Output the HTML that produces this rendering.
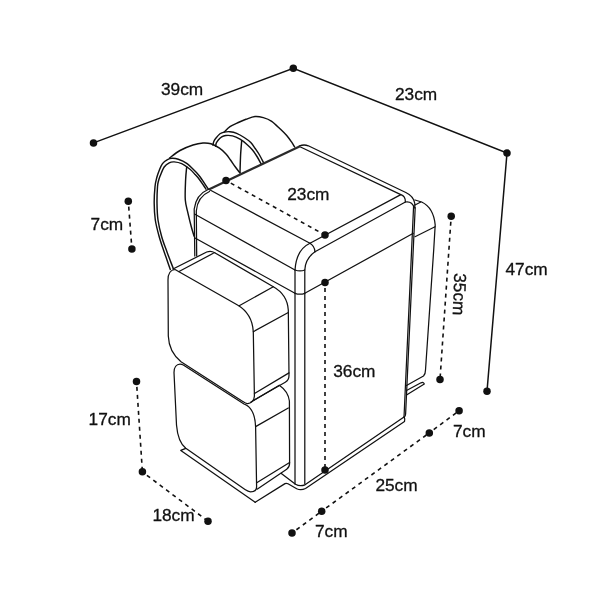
<!DOCTYPE html>
<html><head><meta charset="utf-8">
<style>
html,body{margin:0;padding:0;background:#fff;}
svg{display:block;will-change:transform;}
text{font-family:"Liberation Sans",sans-serif;font-size:17.3px;fill:#111;stroke:#111;stroke-width:0.3px;}
</style></head>
<body>
<svg width="600" height="600" viewBox="0 0 600 600">
<rect width="600" height="600" fill="#fff"/>

<g fill="none" stroke="#111" stroke-width="1.25" stroke-linecap="round" stroke-linejoin="round">
<g stroke-width="1.45">
<path d="M169.50,158.00 C171.25,156.75 176.08,152.67 180.00,150.50 C183.92,148.33 189.17,146.25 193.00,145.00 C196.83,143.75 200.00,143.20 203.00,143.00 C206.00,142.80 208.25,142.93 211.00,143.80 C213.75,144.67 217.00,146.50 219.50,148.20 C222.00,149.90 224.17,152.03 226.00,154.00 C227.83,155.97 229.00,157.92 230.50,160.00 C232.00,162.08 233.42,164.33 235.00,166.50 C236.58,168.67 239.17,171.92 240.00,173.00"/>
<path d="M170.30,269.50 C169.75,267.92 168.02,262.92 167.00,260.00 C165.98,257.08 165.50,255.88 164.20,252.00 C162.90,248.12 160.68,242.03 159.20,236.70 C157.72,231.37 156.13,225.57 155.30,220.00 C154.47,214.43 154.25,208.85 154.20,203.30 C154.15,197.75 154.57,191.00 155.00,186.70 C155.43,182.40 156.10,180.20 156.80,177.50 C157.50,174.80 158.25,172.82 159.20,170.50 C160.15,168.18 161.12,165.42 162.50,163.60 C163.88,161.78 165.92,160.48 167.50,159.60 C169.08,158.72 170.20,158.37 172.00,158.30 C173.80,158.23 175.85,158.37 178.30,159.20 C180.75,160.03 183.92,161.33 186.70,163.30 C189.48,165.27 192.78,168.77 195.00,171.00 C197.22,173.23 198.33,174.50 200.00,176.70 C201.67,178.90 203.58,182.10 205.00,184.20 C206.42,186.30 207.92,188.45 208.50,189.30"/>
<path d="M173.50,269.00 C172.92,267.50 171.08,262.83 170.00,260.00 C168.92,257.17 168.38,255.88 167.00,252.00 C165.62,248.12 163.20,242.03 161.70,236.70 C160.20,231.37 158.78,225.57 158.00,220.00 C157.22,214.43 157.08,208.85 157.00,203.30 C156.92,197.75 157.23,190.50 157.50,186.70 C157.77,182.90 158.15,182.32 158.60,180.50 C159.05,178.68 159.27,178.05 160.20,175.80 C161.13,173.55 162.70,169.17 164.20,167.00 C165.70,164.83 167.53,163.65 169.20,162.80 C170.87,161.95 172.12,161.75 174.20,161.90 C176.28,162.05 179.07,162.47 181.70,163.70 C184.33,164.93 187.78,167.52 190.00,169.30 C192.22,171.08 193.47,172.75 195.00,174.40 C196.53,176.05 197.82,177.43 199.20,179.20 C200.58,180.97 202.17,183.33 203.30,185.00 C204.43,186.67 205.55,188.50 206.00,189.20"/>
<path d="M186.70,166.70 C186.52,168.92 185.83,174.45 185.60,180.00 C185.37,185.55 184.90,194.45 185.30,200.00 C185.70,205.55 187.00,208.85 188.00,213.30 C189.00,217.75 190.30,222.92 191.30,226.70 C192.30,230.48 193.55,234.45 194.00,236.00"/>
<path d="M224.20,132.00 C225.17,131.12 227.65,128.28 230.00,126.70 C232.35,125.12 235.63,123.73 238.30,122.50 C240.97,121.27 243.22,120.30 246.00,119.30 C248.78,118.30 252.12,116.78 255.00,116.50 C257.88,116.22 260.52,116.80 263.30,117.60 C266.08,118.40 268.92,119.43 271.70,121.30 C274.48,123.17 277.50,126.43 280.00,128.80 C282.50,131.17 284.75,133.27 286.70,135.50 C288.65,137.73 290.38,140.30 291.70,142.20 C293.02,144.10 294.12,146.12 294.60,146.90"/>
<path d="M212.90,145.00 C213.05,144.42 213.32,142.62 213.80,141.50 C214.28,140.38 214.77,139.59 215.80,138.30 C216.83,137.01 218.60,134.78 220.00,133.75 C221.40,132.72 222.53,132.44 224.20,132.10 C225.87,131.76 227.92,131.50 230.00,131.70 C232.08,131.90 234.33,132.33 236.70,133.30 C239.07,134.27 241.85,135.97 244.20,137.50 C246.55,139.03 248.97,140.67 250.80,142.50 C252.63,144.33 253.75,146.42 255.20,148.50 C256.65,150.58 258.08,152.58 259.50,155.00 C260.92,157.42 263.00,161.67 263.70,163.00"/>
<path d="M215.60,146.20 C215.72,145.67 215.85,144.03 216.30,143.00 C216.75,141.97 217.40,141.03 218.30,140.00 C219.20,138.97 220.45,137.55 221.70,136.80 C222.95,136.05 224.00,135.65 225.80,135.50 C227.60,135.35 230.13,135.28 232.50,135.90 C234.87,136.52 237.63,137.82 240.00,139.20 C242.37,140.58 244.62,142.40 246.70,144.20 C248.78,146.00 250.78,147.95 252.50,150.00 C254.22,152.05 255.53,154.13 257.00,156.50 C258.47,158.87 260.58,162.92 261.30,164.20"/>
<path d="M241.70,140.80 C241.52,143.17 240.88,149.72 240.60,155.00 C240.32,160.28 240.10,169.58 240.00,172.50"/>
</g>

<path d="M299.5,145.8 Q304.2,144.2 308.3,145.8 L405.8,192.5 Q413.5,196 414.8,203.5 L414.8,208"/>
<path d="M300.5,147 L400.8,194.6"/>
<path d="M310,243.3 L400.8,194.6 Q405.5,196 405.4,202"/>
<path d="M315,251.7 L405.4,202 Q412,201 414.2,207.5"/>
<path d="M310,243.3 Q314.5,246 315,251.7"/>
<path d="M208.7,189.3 L310,243.3"/>
<path d="M208.5,189.3 C201,192.5 195.5,199 194.2,209 L194.8,256"/>
<path d="M209.5,191.5 C202.5,194.5 197.2,201 196.3,211 L196.7,256"/>
<path d="M310,243.3 C302,247 296,254 295,270 L295,484"/>
<path d="M315,251.7 C309,256 305,262 304.8,270 L304.8,484"/>
<path d="M295,270 Q300,271.8 304.8,270"/>
<path d="M295,293.3 Q300,295.1 304.8,293.3"/>
<path d="M194.5,214 L295,270"/>
<path d="M195,238 L295,293.3"/>
<path d="M304.8,293.3 L413.3,233.3"/>
<path d="M415,236.7 L435,226.7"/>
<path d="M413.6,206 L404,417.5"/>
<path d="M415.2,207.5 L405.6,414 Q405.5,416.5 404,417.5"/>
<path d="M415,200 L421.7,202 C428,205 434,212 435.2,225 L433.7,250 L425.5,370 Q425.5,374 423.5,376 L406.5,385.5"/>
<path d="M415,205 L420.8,202"/>
<path d="M406.5,390.5 L421,382.8 Q423.5,381.8 424.3,384 L406.5,395"/>
<path d="M281,473.3 L295.5,484.2 Q300,486.8 305,484.8 L404,417"/>
<path d="M255.2,502.3 L285,483.6 Q286.5,483 288,483.8 L296.7,488.8 Q301,490.8 305.5,488.5 L404.5,421.5 Q405.2,419 404.2,417"/>
<path d="M185.8,448.3 L180.8,450.4 L255.2,502.3"/>
<path d="M175,269.5 L237.5,305 C246,310 252.5,318 253.3,331.7 L254.4,396 C254.4,400 251,403.8 247.3,403.6 C245.5,403.5 244,402.3 242,401 L181,361.8 C174,356 168.8,348.5 168.3,336 L168,280 C168,274 170,270 175,269.5 Z"/>
<path d="M173,269 L206.7,252 Q211,250.3 214.7,252.7"/>
<path d="M179,271.5 L213.3,253.3"/>
<path d="M214.7,252.7 L273.3,286.7 C281,291 287.5,297 288.3,310 L289,375.5 C289,379 287.5,381 285.25,382.25 L253.75,400.25"/>
<path d="M289,372.9 L254.5,393.5"/>
<path d="M239.2,305.8 L273.3,286.7"/>
<path d="M253.3,331.7 L288.3,312.5"/>
<path d="M183.3,365 L244,404 C251,406.5 255,413 255.6,426.6 L256.6,487 C256.6,490 254,491.8 250.5,491.8 C248.5,491.7 246.5,490.5 245,489.5 L185.8,448.3 C181,444.5 177.5,437 176.5,425 L174,372.5 C174,367.5 176.5,364.2 180,364.2 C181.2,364.2 182.3,364.5 183.3,365 Z"/>
<path d="M251,402.1 L279.25,385.25 C284,388.5 288.5,394 289.4,401 L289.6,463.3 C289.6,466 288.5,468 286.7,469.2 L257.1,489.2"/>
<path d="M289.6,462.5 L257.1,482.5"/>
<path d="M255.6,426.6 L288.3,408"/>

<path d="M208.8,189.5 L300,146.2" stroke-width="2.3" stroke="#2a2a2a" stroke-linecap="butt"/>
</g>
<g fill="none" stroke="#111" stroke-width="1.5"><path d="M93.5,142.9 L293.3,68.3 L507,153.1 L487,391.3"/></g>
<g fill="none" stroke="#111" stroke-width="1.6" stroke-dasharray="4 4" stroke-dashoffset="2.5">
<path d="M128.3,201.2 L131.9,248.9"/>
<path d="M136.5,381.4 L142.4,471.8"/>
<path d="M142.5,472.0 L208.0,521.2"/>
<path d="M292.0,533.0 L321.7,511.2"/>
<path d="M321.7,511.2 L429.3,432.9"/>
<path d="M429.3,432.9 L459.1,410.7"/>
<path d="M451.2,216.3 L440.0,379.5"/>
<path d="M325.0,282.5 L325.0,470.0"/>
<path d="M226.0,180.5 L325.0,235.0"/>
</g>
<g fill="#111">
<circle cx="93.5" cy="142.9" r="3.75"/>
<circle cx="293.3" cy="68.3" r="3.75"/>
<circle cx="507.0" cy="153.1" r="3.75"/>
<circle cx="487.0" cy="391.3" r="3.75"/>
<circle cx="128.3" cy="201.2" r="3.75"/>
<circle cx="131.9" cy="248.9" r="3.75"/>
<circle cx="136.5" cy="381.4" r="3.75"/>
<circle cx="142.4" cy="471.8" r="3.75"/>
<circle cx="208.0" cy="521.2" r="3.75"/>
<circle cx="292.0" cy="533.0" r="3.75"/>
<circle cx="321.7" cy="511.2" r="3.75"/>
<circle cx="429.3" cy="432.9" r="3.75"/>
<circle cx="459.1" cy="410.7" r="3.75"/>
<circle cx="451.2" cy="216.3" r="3.75"/>
<circle cx="440.0" cy="379.5" r="3.75"/>
<circle cx="325.0" cy="282.5" r="3.75"/>
<circle cx="325.0" cy="470.0" r="3.75"/>
<circle cx="226.0" cy="180.5" r="3.75"/>
<circle cx="325.0" cy="235.0" r="3.75"/>
</g>
<text x="161.0" y="94.7">39cm</text>
<text x="395.0" y="100.0">23cm</text>
<text x="505.5" y="275.4">47cm</text>
<text x="287.2" y="199.7">23cm</text>
<text x="90.6" y="230.0">7cm</text>
<text x="88.6" y="425.0">17cm</text>
<text x="152.4" y="521.2">18cm</text>
<text x="375.4" y="491.0">25cm</text>
<text x="315.0" y="537.0">7cm</text>
<text x="453.0" y="436.8">7cm</text>
<text x="333.2" y="377.4">36cm</text>
<text transform="translate(454.3,273) rotate(92)" x="0" y="0">35cm</text>
</svg>
</body></html>
